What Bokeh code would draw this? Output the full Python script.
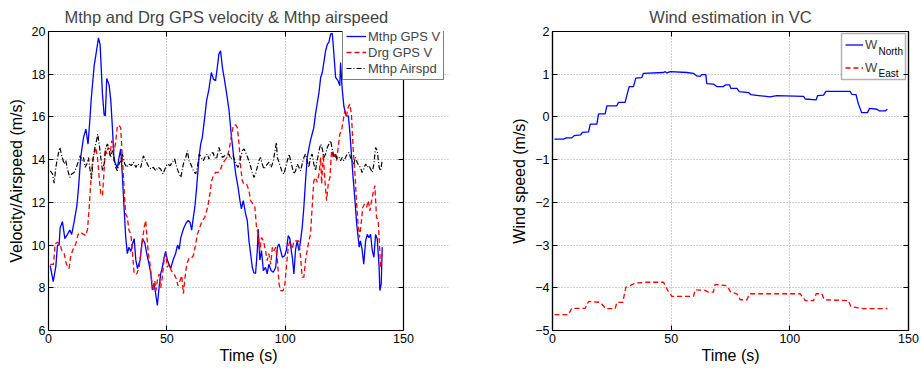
from bokeh.plotting import figure
from bokeh.layouts import row
from bokeh.models import (Legend, LegendItem, LinearAxis, Label, FixedTicker,
                          CustomJSTickFormatter, Range1d, BoxAnnotation)
from bokeh.embed import file_html
from bokeh.resources import INLINE

# ---------------- data ----------------
gps_t = [0.7, 2.0, 3.1, 3.8, 4.5, 4.9, 5.9, 6.9, 8.0, 9.0, 9.8, 10.8, 12.0, 12.7, 13.6, 14.8, 15.8, 16.7, 17.2, 18.1,
         19.3, 20.3, 21.1, 21.8, 22.8, 23.5, 24.0, 24.6, 25.6, 26.3, 27.0, 27.7, 28.4, 29.1, 29.8, 30.5, 31.2, 31.9, 32.6, 33.3,
         34.0, 34.8, 35.5, 36.2, 36.9, 37.6, 38.7, 39.7, 40.7, 41.5, 42.5, 43.2, 43.9, 44.6, 45.3, 46.0, 46.7, 47.4, 48.1, 48.8,
         49.5, 50.2, 50.9, 51.6, 52.8, 53.7, 54.5, 55.2, 55.9, 57.0, 58.0, 59.0, 59.8, 60.5, 61.2, 61.9, 62.6, 63.6, 64.3, 65.0,
         66.0, 66.8, 67.8, 68.8, 69.7, 70.6, 71.3, 72.0, 72.7, 73.5, 74.2, 75.3, 76.3, 77.2, 78.1, 79.1, 80.1, 80.9, 81.5, 82.3,
         83.3, 84.0, 84.7, 85.4, 86.1, 86.8, 87.5, 88.2, 88.6, 89.3, 90.0, 90.8, 91.7, 92.4, 93.1, 94.1, 95.0, 96.0, 96.7, 97.4,
         98.1, 98.8, 99.8, 100.6, 101.3, 102.0, 102.6, 103.1, 103.7, 104.4, 105.1, 105.8, 106.5, 107.2, 107.9, 108.6, 109.3, 110.0, 110.7, 111.4,
         112.1, 112.8, 113.5, 114.3, 115.0, 115.7, 116.4, 117.1, 117.8, 118.5, 119.2, 119.9, 120.6, 121.3, 122.3, 123.1, 123.4, 124.1, 124.8, 125.8,
         126.7, 127.4, 128.0, 128.7, 129.5, 130.2, 130.7, 131.3, 131.8, 132.5, 133.2, 134.0, 134.7, 135.4, 136.1, 136.8, 137.5, 138.2, 138.9, 139.7,
         140.0, 140.6, 141.0]
mthp_gps_v = [9.04, 8.29, 9.0, 10.0, 10.0, 10.8, 11.1, 10.3, 10.5, 10.7, 10.5, 11.07, 11.85, 12.7, 14.1, 15.04, 15.43, 14.73, 15.43, 16.9,
              18.4, 19.1, 19.7, 19.4, 17.07, 16.1, 16.05, 17.8, 17.5, 16.8, 15.5, 13.95, 13.8, 13.6, 14.1, 14.5, 13.3, 11.8, 10.4, 9.6,
              9.9, 9.7, 10.05, 10.3, 9.3, 8.9, 9.3, 10.3, 10.1, 9.6, 9.1, 8.7, 7.9, 8.2, 7.7, 7.17, 8.0, 8.65, 8.96, 9.4,
              9.7, 9.3, 9.1, 8.9, 9.35, 9.6, 10.0, 9.8, 10.35, 10.75, 11.0, 11.15, 11.07, 10.7, 11.3, 11.85, 12.7, 14.1, 14.73, 15.04,
              15.98, 16.76, 17.3, 18.08, 17.77, 17.7, 18.3, 18.94, 19.1, 18.3, 17.85, 17.07, 16.3, 15.2, 14.27, 13.33, 12.7, 12.08, 11.7, 12.08,
              11.45, 11.15, 10.2, 9.6, 8.96, 8.7, 8.68, 9.7, 10.75, 9.3, 9.74, 8.8, 8.96, 8.65, 9.1, 8.8, 8.73, 8.96, 9.9, 10.05,
              9.74, 9.43, 9.5, 9.8, 10.45, 10.3, 9.74, 9.35, 8.65, 9.8, 10.2, 9.74, 10.2, 10.83, 11.77, 13.0, 14.1, 14.5, 14.9, 15.2,
              15.5, 16.13, 16.6, 17.15, 17.85, 18.08, 18.6, 19.1, 19.4, 19.5, 19.88, 19.92, 18.94, 17.85, 17.7, 17.46, 18.55, 17.3, 16.5, 16.05,
              16.05, 15.2, 14.26, 13.17, 12.08, 11.0, 10.5, 9.9, 10.2, 9.8, 9.1, 10.2, 10.5, 10.35, 10.5, 9.74, 9.43, 10.5, 10.3, 8.96,
              7.87, 8.2, 9.9]

drg_t = [0.7, 2.1, 2.8, 3.8, 4.9, 5.6, 6.6, 7.6, 8.7, 9.4, 10.4, 11.5, 12.5, 13.6, 14.8, 15.8, 16.5, 17.2, 17.9, 18.6,
         19.3, 20.0, 20.7, 21.4, 22.1, 22.8, 23.5, 24.0, 24.6, 25.2, 26.0, 26.7, 27.7, 28.4, 29.1, 29.8, 30.5, 31.2, 31.9, 32.6,
         33.3, 34.0, 34.8, 35.5, 36.2, 37.3, 38.3, 39.0, 39.7, 40.4, 41.1, 41.5, 42.2, 42.9, 43.6, 44.3, 44.9, 45.4, 46.0, 46.7,
         47.4, 48.1, 48.8, 49.5, 50.2, 50.9, 51.9, 53.0, 54.0, 54.7, 55.6, 56.3, 57.0, 57.7, 58.4, 59.4, 60.4, 61.2, 62.2, 62.9,
         63.9, 65.0, 66.0, 66.8, 67.5, 68.2, 68.9, 69.7, 70.6, 71.6, 72.5, 73.5, 74.4, 75.5, 76.5, 77.2, 78.1, 79.1, 79.8, 80.5,
         81.2, 81.9, 82.6, 83.7, 84.7, 85.4, 86.4, 87.2, 87.9, 88.6, 89.3, 90.0, 90.8, 91.7, 92.4, 93.1, 93.9, 94.6, 95.3, 96.0,
         96.7, 97.4, 98.1, 99.2, 99.9, 100.6, 101.3, 102.0, 103.0, 103.7, 104.8, 105.8, 106.5, 107.2, 107.9, 108.6, 109.3, 110.0, 110.7, 111.4,
         112.1, 112.8, 113.5, 114.3, 115.0, 115.4, 116.1, 116.8, 117.5, 118.2, 118.9, 119.6, 120.3, 121.0, 121.7, 122.4, 123.1, 123.8, 124.5, 125.2,
         125.9, 126.6, 127.3, 128.0, 128.7, 129.5, 130.2, 130.7, 131.4, 132.1, 132.8, 133.5, 134.4, 135.1, 135.8, 136.5, 137.2, 137.9, 138.6, 139.3,
         139.9, 140.3, 141.0]
drg_gps_v = [9.1, 9.1, 10.05, 10.13, 10.05, 9.74, 9.6, 9.1, 8.9, 9.5, 9.8, 10.05, 10.5, 10.6, 10.5, 10.45, 10.75, 11.77, 13.0, 13.95,
             14.26, 14.57, 14.1, 13.17, 12.4, 12.3, 13.5, 14.5, 14.26, 14.57, 14.18, 14.89, 14.42, 14.8, 15.6, 15.6, 15.5, 14.1, 12.7, 11.45,
             11.3, 10.7, 10.52, 9.6, 8.65, 8.65, 8.96, 9.6, 10.2, 10.83, 11.15, 10.5, 9.6, 9.1, 8.34, 7.87, 8.34, 7.87, 8.34, 8.65,
             8.0, 8.5, 9.27, 9.6, 8.96, 9.1, 8.8, 8.65, 8.42, 8.1, 8.34, 8.57, 7.72, 8.5, 9.1, 9.4, 9.4, 9.5, 10.05, 10.5,
             10.83, 11.15, 11.3, 11.6, 11.92, 12.4, 13.0, 13.25, 13.4, 13.4, 13.48, 13.8, 13.95, 14.1, 14.57, 15.04, 15.6, 15.63, 15.5, 14.73,
             13.64, 13.0, 12.86, 12.86, 12.55, 12.08, 11.92, 11.77, 10.83, 10.5, 9.74, 10.35, 10.2, 9.74, 9.27, 9.6, 9.1, 9.9, 9.74, 9.9,
             9.35, 8.18, 7.87, 7.87, 8.18, 9.1, 9.9, 10.2, 9.8, 10.2, 10.2, 10.2, 9.43, 8.5, 8.5, 9.27, 9.74, 10.2, 10.5, 11.77,
             13.0, 13.17, 12.94, 13.33, 14.1, 12.86, 14.26, 13.0, 12.08, 12.86, 13.17, 14.42, 14.1, 14.26, 13.95, 14.57, 15.2, 15.35, 15.82, 16.3,
             16.05, 16.44, 16.6, 16.13, 14.57, 13.33, 11.92, 11.15, 10.36, 11.0, 11.77, 11.92, 11.77, 12.08, 11.6, 12.08, 12.47, 12.78, 11.3, 11.15,
             9.9, 8.96, 9.6]

air_t = [0.7, 1.7, 2.4, 3.1, 3.8, 4.8, 5.6, 6.6, 7.3, 8.0, 9.0, 9.8, 10.8, 11.8, 12.7, 13.4, 14.1, 14.8, 15.5, 16.2,
         16.9, 17.6, 18.2, 18.9, 19.6, 20.3, 20.8, 21.4, 22.1, 22.8, 23.5, 24.2, 24.9, 25.6, 26.3, 27.0, 27.7, 28.4, 29.1, 29.8,
         30.5, 31.2, 32.2, 33.1, 34.0, 35.0, 35.9, 36.9, 37.8, 39.0, 40.1, 41.1, 42.1, 43.2, 44.3, 45.3, 46.3, 47.4, 48.4, 49.2,
         50.2, 51.4, 52.3, 53.3, 54.2, 55.2, 55.9, 57.0, 58.0, 58.7, 59.4, 60.4, 61.2, 62.2, 62.9, 63.7, 64.6, 65.4, 66.4, 67.1,
         67.8, 68.5, 69.5, 70.2, 71.0, 72.0, 72.7, 73.5, 74.4, 75.3, 76.3, 77.0, 78.0, 79.1, 80.1, 80.9, 81.9, 82.6, 83.6, 84.4,
         85.1, 86.1, 86.8, 87.5, 88.2, 88.9, 89.6, 90.3, 91.0, 92.0, 93.1, 94.1, 95.0, 95.7, 96.3, 96.7, 97.4, 98.1, 98.8, 99.5,
         100.2, 100.9, 101.7, 102.3, 103.0, 103.7, 104.4, 105.1, 105.8, 106.5, 107.2, 107.9, 108.6, 109.3, 110.0, 110.7, 111.4, 112.1, 112.8, 113.5,
         114.3, 115.0, 115.7, 116.4, 117.1, 117.8, 118.5, 119.2, 119.9, 120.6, 121.3, 122.0, 122.8, 123.4, 124.1, 124.8, 125.5, 126.2, 127.0, 127.6,
         128.3, 129.0, 129.7, 130.4, 131.1, 131.8, 132.5, 133.2, 134.0, 134.7, 135.4, 136.1, 136.8, 137.5, 138.2, 138.9, 139.7, 140.3, 141.0]
mthp_airspd = [13.48, 13.33, 12.9, 13.64, 14.1, 14.57, 14.18, 13.8, 13.95, 13.56, 13.17, 13.33, 13.4, 13.64, 13.95, 14.18, 13.95, 14.1, 13.64, 13.8,
               14.1, 13.48, 13.09, 14.1, 14.57, 14.89, 15.2, 14.73, 14.1, 13.48, 13.8, 14.57, 14.73, 14.5, 14.1, 14.42, 14.1, 13.64, 13.48, 13.8,
               13.95, 14.26, 13.8, 13.64, 13.8, 13.72, 13.88, 13.64, 13.8, 13.64, 14.18, 13.95, 13.72, 13.56, 13.64, 13.48, 13.64, 13.56, 13.33, 13.56,
               13.8, 13.72, 13.88, 14.03, 13.64, 13.33, 13.17, 13.8, 14.1, 14.42, 13.95, 13.72, 13.48, 13.33, 13.64, 14.26, 14.1, 13.95, 14.18, 14.26,
               14.03, 14.26, 14.34, 14.1, 14.03, 14.57, 14.34, 14.1, 14.18, 14.1, 14.26, 14.03, 14.18, 13.8, 13.64, 13.95, 14.42, 14.5, 14.26, 14.03,
               13.8, 13.4, 13.17, 13.33, 13.64, 13.95, 14.1, 13.8, 13.56, 13.72, 13.88, 13.64, 13.95, 14.42, 14.8, 14.1, 13.88, 13.64, 13.4, 13.33,
               13.64, 13.95, 14.26, 13.95, 13.64, 13.33, 13.48, 13.8, 13.64, 13.48, 13.8, 14.1, 14.26, 13.95, 13.64, 14.1, 14.26, 13.8, 13.48, 13.95,
               14.42, 14.73, 14.5, 14.1, 14.26, 14.57, 14.73, 14.89, 14.5, 14.1, 14.26, 14.03, 14.1, 13.95, 14.1, 13.95, 14.1, 14.26, 14.34, 14.1,
               13.95, 13.8, 14.1, 13.88, 13.72, 13.64, 13.4, 13.56, 13.8, 13.64, 13.72, 13.56, 13.4, 13.8, 14.57, 14.42, 13.64, 13.48, 13.95]

wn_t = [0.8, 4.6, 5.8, 8.1, 9.1, 11.9, 12.6, 15.2, 15.9, 18.7, 19.4, 22.2, 22.9, 27.1, 27.8, 30.6, 31.3, 32.3, 34.1, 35.1,
        37.6, 38.3, 46.8, 47.5, 48.2, 49.6, 56.6, 59.4, 60.8, 62.2, 62.9, 64.6, 65.0, 67.8, 69.2, 72.0, 72.8, 74.6, 75.1, 77.7,
        78.7, 82.6, 83.6, 86.8, 91.7, 94.5, 105.8, 106.5, 111.1, 111.7, 114.2, 115.2, 125.4, 126.1, 127.9, 128.9, 130.3, 132.7, 133.6, 136.7,
        137.8, 140.2, 141.1]
w_north = [-0.52, -0.52, -0.49, -0.49, -0.44, -0.42, -0.36, -0.35, -0.17, -0.17, 0.07, 0.07, 0.26, 0.26, 0.34, 0.34, 0.5, 0.71, 0.71, 0.91,
           0.92, 1.02, 1.04, 1.06, 1.03, 1.06, 1.04, 1.02, 0.96, 0.95, 0.99, 0.99, 0.78, 0.77, 0.71, 0.71, 0.75, 0.75, 0.67, 0.67,
           0.59, 0.57, 0.52, 0.5, 0.47, 0.5, 0.48, 0.42, 0.4, 0.5, 0.51, 0.6, 0.6, 0.53, 0.52, 0.3, 0.1, 0.1, 0.2, 0.18,
           0.14, 0.14, 0.18]

we_t = [0.8, 6.7, 8.1, 13.8, 15.2, 20.1, 22.5, 26.4, 27.1, 29.6, 30.9, 32.7, 34.8, 39.7, 46.8, 48.5, 50.3, 59.4, 60.1, 64.3,
        65.7, 67.8, 68.5, 73.5, 75.1, 77.7, 79.1, 81.9, 83.0, 104.4, 106.5, 110.0, 111.1, 113.5, 114.5, 124.7, 125.7, 131.0, 141.1]
w_east = [-4.63, -4.63, -4.48, -4.48, -4.32, -4.34, -4.49, -4.49, -4.34, -4.34, -3.99, -3.95, -3.89, -3.87, -3.87, -4.06, -4.2, -4.2, -4.05, -4.06,
          -4.1, -4.1, -3.92, -3.95, -4.1, -4.14, -4.28, -4.28, -4.14, -4.14, -4.3, -4.3, -4.14, -4.14, -4.28, -4.3, -4.44, -4.49, -4.49]

x_ticks = [0, 50, 100, 150]
y1_ticks = [6, 8, 10, 12, 14, 16, 18, 20]
y2_ticks = [-5, -4, -3, -2, -1, 0, 1, 2]

FONT = "Liberation Sans"
BLUE = "#0000ff"
RED = "#ff0000"
BLACK = "#000000"
AXW = 1.2


def base_axis(ax):
    ax.major_tick_in = 5
    ax.major_tick_out = 0
    ax.minor_tick_line_color = None
    ax.axis_line_color = "black"
    ax.axis_line_width = AXW
    ax.major_tick_line_color = "black"
    ax.major_label_text_font = FONT
    ax.major_label_text_font_size = "12.5px"
    ax.major_label_text_color = "black"
    ax.axis_label_text_font = FONT
    ax.axis_label_text_font_size = "16px"
    ax.axis_label_text_font_style = "normal"
    ax.axis_label_text_color = "black"


def style(p, xt, yt, xbounds=None):
    p.title.text_font = FONT
    p.title.text_font_size = "16.5px"
    p.title.text_font_style = "normal"
    p.title.standoff = 11
    p.background_fill_color = "white"
    p.border_fill_color = "white"
    for ax in (p.xaxis[0], p.yaxis[0]):
        base_axis(ax)
    p.xaxis[0].ticker = FixedTicker(ticks=xt)
    p.yaxis[0].ticker = FixedTicker(ticks=yt)
    p.xaxis[0].major_label_standoff = 3
    p.xaxis[0].axis_label_standoff = 1
    p.yaxis[0].major_label_standoff = 3
    p.yaxis[0].axis_label_standoff = 4
    p.xgrid.ticker = FixedTicker(ticks=xt)
    p.ygrid.ticker = FixedTicker(ticks=yt)
    for g in (p.xgrid[0], p.ygrid[0]):
        g.grid_line_color = "#a0a0a0"
        g.grid_line_dash = "1 2"
        g.grid_line_width = 1
    blank = CustomJSTickFormatter(code="return ''")
    top = LinearAxis(ticker=FixedTicker(ticks=xt), formatter=blank, major_tick_in=5, major_tick_out=0,
                     minor_tick_line_color=None, major_label_standoff=0, axis_line_width=AXW,
                     major_label_text_font_size="0px")
    right = LinearAxis(ticker=FixedTicker(ticks=yt), formatter=blank, major_tick_in=5, major_tick_out=0,
                       minor_tick_line_color=None, major_label_standoff=0, axis_line_width=AXW,
                       major_label_text_font_size="0px")
    if xbounds is not None:
        p.outline_line_color = None
        p.xaxis[0].bounds = xbounds
        top.bounds = xbounds
        p.ygrid[0].bounds = xbounds
        right.fixed_location = xbounds[1]
    else:
        p.outline_line_color = "black"
        p.outline_line_width = AXW
    p.add_layout(top, "above")
    p.add_layout(right, "right")


# ---------------- left figure ----------------
# the frame is widened past t=150 so that the legend can overhang the box, as in the reference
FW1 = 400
p1 = figure(frame_width=FW1, frame_height=299, output_backend="svg", toolbar_location=None,
            x_range=Range1d(0, 150 * FW1 / 355.0), y_range=Range1d(6, 20),
            title="Mthp and Drg GPS velocity & Mthp airspeed",
            x_axis_label="Time (s)", y_axis_label="Velocity/Airspeed (m/s)",
            min_border_left=48, min_border_right=44, min_border_top=31, min_border_bottom=42)
style(p1, x_ticks, y1_ticks, xbounds=(0, 150))
p1.title.align = "left"
p1.title.offset = 16
r1 = p1.line(gps_t, mthp_gps_v, line_color=BLUE, line_width=1.3)
r2 = p1.line(drg_t, drg_gps_v, line_color=RED, line_width=1.3, line_dash="5 3")
r3 = p1.line(air_t, mthp_airspd, line_color=BLACK, line_width=1.2, line_dash="5 2 1 2")
leg1 = Legend(items=[LegendItem(label="Mthp GPS V", renderers=[r1]),
                     LegendItem(label="Drg GPS V", renderers=[r2]),
                     LegendItem(label="Mthp Airspd", renderers=[r3])],
              location=(294, 250), padding=3, spacing=0, margin=0,
              label_height=16, glyph_height=16, glyph_width=20, label_standoff=2,
              label_text_font=FONT, label_text_font_size="13px",
              border_line_color="black", border_line_width=1.5,
              background_fill_color="white", background_fill_alpha=1)
p1.add_layout(leg1)

# ---------------- right figure ----------------
p2 = figure(frame_width=356, frame_height=299, output_backend="svg", toolbar_location=None,
            x_range=Range1d(0, 150), y_range=Range1d(-5, 2),
            title="Wind estimation in VC",
            x_axis_label="Time (s)", y_axis_label="Wind speed (m/s)",
            min_border_left=60, min_border_right=13, min_border_top=31, min_border_bottom=42)
style(p2, x_ticks, y2_ticks)
p2.title.align = "center"
# legend box (drawn under the legend so the subscripts stay visible)
p2.add_layout(BoxAnnotation(left=289, right=353, bottom=251, top=297,
                            left_units="screen", right_units="screen",
                            bottom_units="screen", top_units="screen",
                            fill_color="white", fill_alpha=1, line_color="black",
                            line_width=1.5, level="underlay"))
q1 = p2.line(wn_t, w_north, line_color=BLUE, line_width=1.3)
q2 = p2.line(we_t, w_east, line_color=RED, line_width=1.3, line_dash="5 3")
leg2 = Legend(items=[LegendItem(label="W", renderers=[q1]),
                     LegendItem(label="W", renderers=[q2])],
              location=(293, 251), padding=0, spacing=0, margin=0,
              label_height=23, glyph_height=23, glyph_width=18, label_standoff=2, label_width=40,
              label_text_font=FONT, label_text_font_size="13px",
              border_line_color=None, background_fill_alpha=0)
p2.add_layout(leg2)
# subscripts of the legend labels
p2.add_layout(Label(x=326, y=279, x_units="screen", y_units="screen", text="North",
                    text_font=FONT, text_font_size="10px", text_baseline="middle", text_color="black"))
p2.add_layout(Label(x=326, y=257, x_units="screen", y_units="screen", text="East",
                    text_font=FONT, text_font_size="10px", text_baseline="middle", text_color="black"))

layout = row(p1, p2)
open("out.html", "w").write(file_html(layout, INLINE))
